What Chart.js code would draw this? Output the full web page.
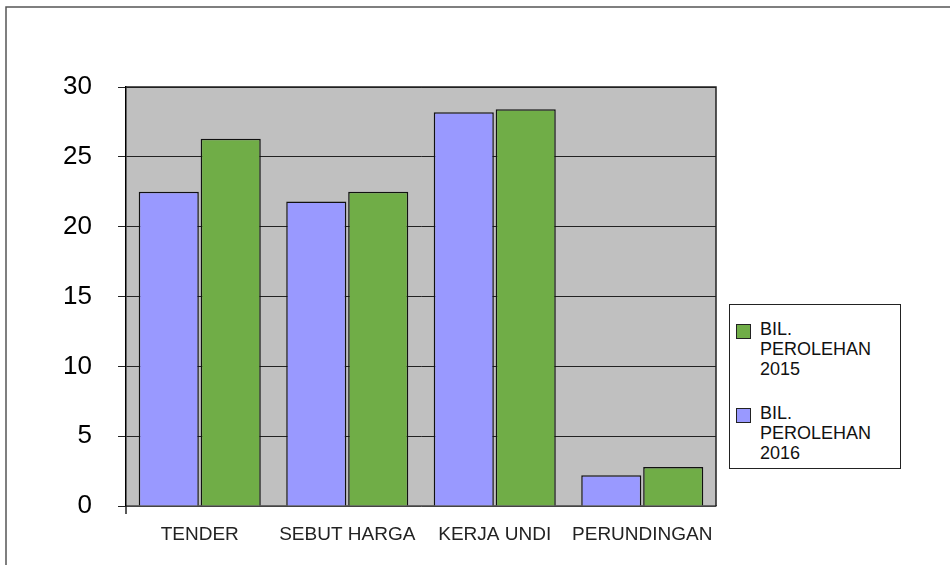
<!DOCTYPE html>
<html>
<head>
<meta charset="utf-8">
<script src="https://cdn.jsdelivr.net/npm/chart.js@4.4.1/dist/chart.umd.min.js"></script>
<style>
	body { margin: 0; background: #fff; }
	#wrap { position: relative; width: 950px; height: 565px; }
	#legend {
		position: absolute; left: 729px; top: 304px; width: 172px; height: 165px;
		border: 1px solid #222; background: #fff; box-sizing: border-box;
		font-family: "Liberation Sans", Arial, sans-serif; font-size: 18px; line-height: 20px; color: #111;
	}
	.item { position: absolute; left: 6px; }
	.swatch { position: absolute; left: 0; top: 5px; width: 13px; height: 13px; border: 1px solid #222; }
	.label { position: absolute; left: 24px; top: 0; white-space: nowrap; }
</style>
</head>
<body>
<div id="wrap">
	<canvas id="chart" width="950" height="565"></canvas>
	<div id="legend"></div>
</div>
<script>
const categories = ['TENDER', 'SEBUT HARGA', 'KERJA UNDI', 'PERUNDINGAN'];
const seriesNames = ['BIL. PEROLEHAN 2016', 'BIL. PEROLEHAN 2015'];
const values2016 = [22.5, 21.8, 28.2, 2.2];
const values2015 = [26.3, 22.5, 28.4, 2.8];
const yTicks = [0, 5, 10, 15, 20, 25, 30];

const colors = ['#9999ff', '#70ad47'];
const font = '"Liberation Sans", Arial, sans-serif';

// gray plot area plus the outer frame of the chart
const backdrop = {
	id: 'backdrop',
	beforeDraw(chart) {
		const {ctx, chartArea} = chart;
		ctx.save();
		ctx.fillStyle = '#c0c0c0';
		ctx.fillRect(chartArea.left, chartArea.top, chartArea.right - chartArea.left, chartArea.bottom - chartArea.top);
		ctx.strokeStyle = '#555';
		ctx.lineWidth = 1.5;
		ctx.beginPath();
		ctx.moveTo(6, 565);
		ctx.lineTo(6, 7);
		ctx.lineTo(950, 7);
		ctx.stroke();
		ctx.restore();
	},
	afterDatasetsDraw(chart) {
		const {ctx, chartArea} = chart;
		ctx.save();
		ctx.strokeStyle = '#222';
		ctx.lineWidth = 1.5;
		ctx.beginPath();
		ctx.moveTo(chartArea.left, chartArea.top);
		ctx.lineTo(chartArea.right, chartArea.top);
		ctx.lineTo(chartArea.right, chartArea.bottom);
		ctx.stroke();
		// small tick below the origin
		ctx.beginPath();
		ctx.moveTo(chartArea.left, chartArea.bottom);
		ctx.lineTo(chartArea.left, chartArea.bottom + 8);
		ctx.stroke();
		ctx.restore();
	}
};

new Chart(document.getElementById('chart'), {
	type: 'bar',
	data: {
		labels: categories,
		datasets: [
			{label: seriesNames[0], data: values2016, backgroundColor: colors[0], borderColor: '#111', borderWidth: 1.5,
				categoryPercentage: 0.84, barPercentage: 0.97},
			{label: seriesNames[1], data: values2015, backgroundColor: colors[1], borderColor: '#111', borderWidth: 1.5,
				categoryPercentage: 0.84, barPercentage: 0.97}
		]
	},
	options: {
		responsive: false,
		devicePixelRatio: 1,
		animation: false,
		layout: {padding: {left: 20, right: 234, top: 87, bottom: 0}},
		plugins: {legend: {display: false}, tooltip: {enabled: false}},
		scales: {
			x: {
				grid: {display: false},
				border: {display: true, color: '#666', width: 1.5},
				ticks: {color: '#222', font: {family: font, size: 19}, padding: 9, maxRotation: 0},
				afterFit(scale) { scale.height = 59; }
			},
			y: {
				min: 0,
				max: 30,
				afterBuildTicks(scale) { scale.ticks = yTicks.map(v => ({value: v})); },
				grid: {color: '#222', lineWidth: 1, tickLength: 8},
				border: {display: true, color: '#000', width: 1.5},
				ticks: {color: '#000', font: {family: font, size: 26}, padding: 26},
				afterFit(scale) { scale.width = 106; }
			}
		}
	},
	plugins: [backdrop]
});

// legend lists 2015 first, as in the original
const legend = document.getElementById('legend');
[1, 0].forEach((i, n) => {
	const item = document.createElement('div');
	item.className = 'item';
	item.style.top = (14 + n * 84) + 'px';
	const words = seriesNames[i].split(' ');
	item.innerHTML = '<div class="swatch" style="background:' + colors[i] + '"></div>' +
		'<div class="label">' + words[0] + '<br>' + words[1] + '<br>' + words[2] + '</div>';
	legend.appendChild(item);
});
</script>
</body>
</html>
